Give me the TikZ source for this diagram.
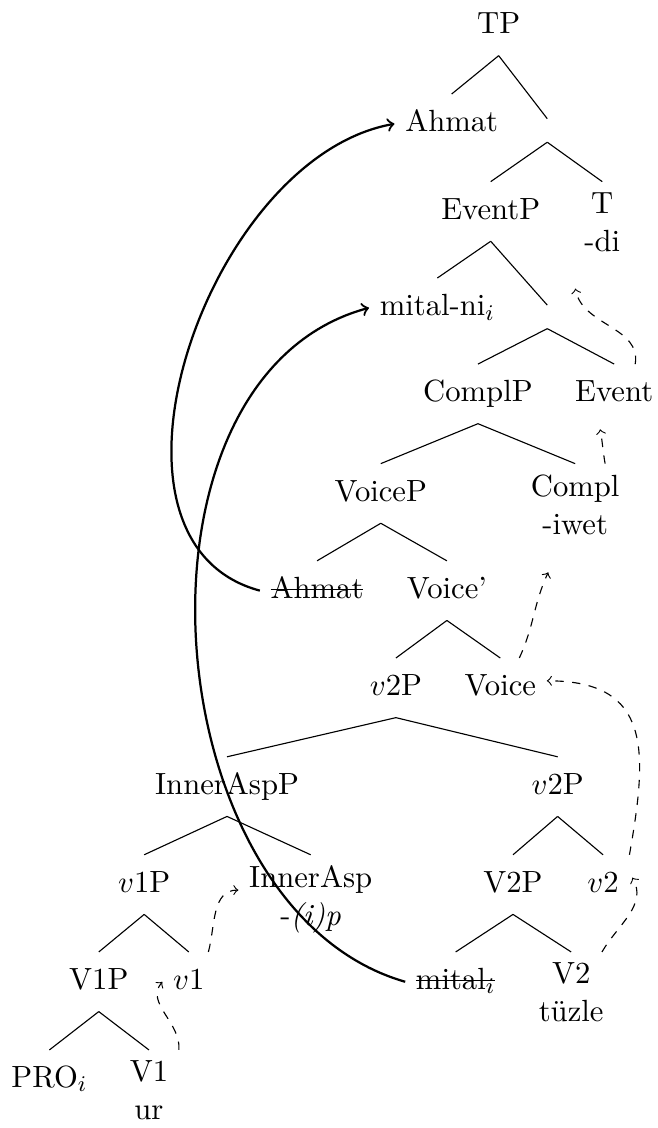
\documentclass[tikz,border=0pt,11pt]{standalone}

\newsavebox\strikebox
\newcommand{\struck}[1]{\sbox\strikebox{#1}\rlap{\usebox\strikebox}\rule[0.6ex]{\wd\strikebox}{0.5pt}}

\begin{document}
\begin{tikzpicture}[
    tn/.style={align=center, anchor=north, execute at begin node=\strut},
    emptynode/.style={anchor=north, inner sep=4pt},
    treeedge/.style={thin},
    phrasemove/.style={thick,->},
    headmove/.style={dashed,->}
]
\useasboundingbox (0,0) rectangle (8.25,-14.16);

\node[tn] (TP) at (6.26,0.05) {TP};
\node[tn] (A1) at (5.67,-1.18) {Ahmat};
\node[emptynode] (E1) at (6.87,-1.49) {};
\node[tn] (EventP) at (6.16,-2.28) {EventP};
\node[tn] (T) at (7.56,-2.28) {T\\-di};
\node[tn] (mitalni) at (5.49,-3.49) {mital-ni$_i$};
\node[emptynode] (E2) at (6.87,-3.83) {};
\node[tn] (ComplP) at (6.00,-4.57) {ComplP};
\node[tn] (Event) at (7.71,-4.57) {Event};
\node[tn] (VoiceP) at (4.78,-5.82) {VoiceP};
\node[tn] (Compl) at (7.22,-5.82) {Compl\\-iwet};
\node[tn] (A2) at (3.98,-7.04) {\struck{Ahmat}};
\node[tn] (Voicebar) at (5.61,-7.04) {Voice'};
\node[tn] (v2P) at (4.97,-8.26) {$v$2P};
\node[tn] (Voice) at (6.28,-8.26) {Voice};
\node[tn] (InnerAspP) at (2.85,-9.50) {InnerAspP};
\node[tn] (v2Pb) at (7.00,-9.50) {$v$2P};
\node[tn] (v1P) at (1.81,-10.73) {$v$1P};
\node[tn] (InnerAsp) at (3.90,-10.73) {InnerAsp\\-\textit{(i)p}};
\node[tn] (V2P) at (6.44,-10.73) {V2P};
\node[tn] (v2) at (7.57,-10.73) {$v$2};
\node[tn] (V1P) at (1.24,-11.95) {V1P};
\node[tn] (v1) at (2.37,-11.95) {$v$1};
\node[tn] (mital) at (5.72,-11.95) {\struck{mital$_i$}};
\node[tn] (V2) at (7.17,-11.95) {V2\\tüzle};
\node[tn] (PRO) at (0.62,-13.18) {PRO$_i$};
\node[tn] (V1) at (1.87,-13.18) {V1\\ur};

\draw[treeedge] (TP.south) -- (A1.north);
\draw[treeedge] (TP.south) -- (E1.north);
\draw[treeedge] (E1.south) -- (EventP.north);
\draw[treeedge] (E1.south) -- (T.north);
\draw[treeedge] (EventP.south) -- (mitalni.north);
\draw[treeedge] (EventP.south) -- (E2.north);
\draw[treeedge] (E2.south) -- (ComplP.north);
\draw[treeedge] (E2.south) -- (Event.north);
\draw[treeedge] (ComplP.south) -- (VoiceP.north);
\draw[treeedge] (ComplP.south) -- (Compl.north);
\draw[treeedge] (VoiceP.south) -- (A2.north);
\draw[treeedge] (VoiceP.south) -- (Voicebar.north);
\draw[treeedge] (Voicebar.south) -- (v2P.north);
\draw[treeedge] (Voicebar.south) -- (Voice.north);
\draw[treeedge] (v2P.south) -- (InnerAspP.north);
\draw[treeedge] (v2P.south) -- (v2Pb.north);
\draw[treeedge] (InnerAspP.south) -- (v1P.north);
\draw[treeedge] (InnerAspP.south) -- (InnerAsp.north);
\draw[treeedge] (v2Pb.south) -- (V2P.north);
\draw[treeedge] (v2Pb.south) -- (v2.north);
\draw[treeedge] (v1P.south) -- (V1P.north);
\draw[treeedge] (v1P.south) -- (v1.north);
\draw[treeedge] (V2P.south) -- (mital.north);
\draw[treeedge] (V2P.south) -- (V2.north);
\draw[treeedge] (V1P.south) -- (PRO.north);
\draw[treeedge] (V1P.south) -- (V1.north);

% phrasal movement
\draw[phrasemove] (A2.west) to[out=165, in=190] (A1.west);
\draw[phrasemove] (mital.west) to[out=164, in=195] (mitalni.west);

% head movement
\draw[headmove] (V1.north east) to[out=85, in=-130] (v1.west);
\draw[headmove] ([xshift=7pt]v1.north) to[out=75, in=180] ([yshift=4pt]InnerAsp.west);
\draw[headmove] ([xshift=11pt]V2.north) to[out=60, in=-60] ([shift={(1pt,2.5pt)}]v2.east);
\draw[headmove] (v2.north east) to[out=80, in=0, looseness=1.4] ([yshift=2.5pt]Voice.east);
\draw[headmove] ([xshift=6.8pt]Voice.north) to[out=65, in=-115] ([shift={(-9.6pt,-5.7pt)}]Compl.south);
\draw[headmove] ([xshift=10.7pt]Compl.north) to[out=100, in=-80] ([shift={(-5pt,-2pt)}]Event.south);
\draw[headmove] ([xshift=7.5pt]Event.north) to[out=80, in=-80] ([shift={(-9.6pt,-5.4pt)}]T.south);

\end{tikzpicture}
\end{document}
